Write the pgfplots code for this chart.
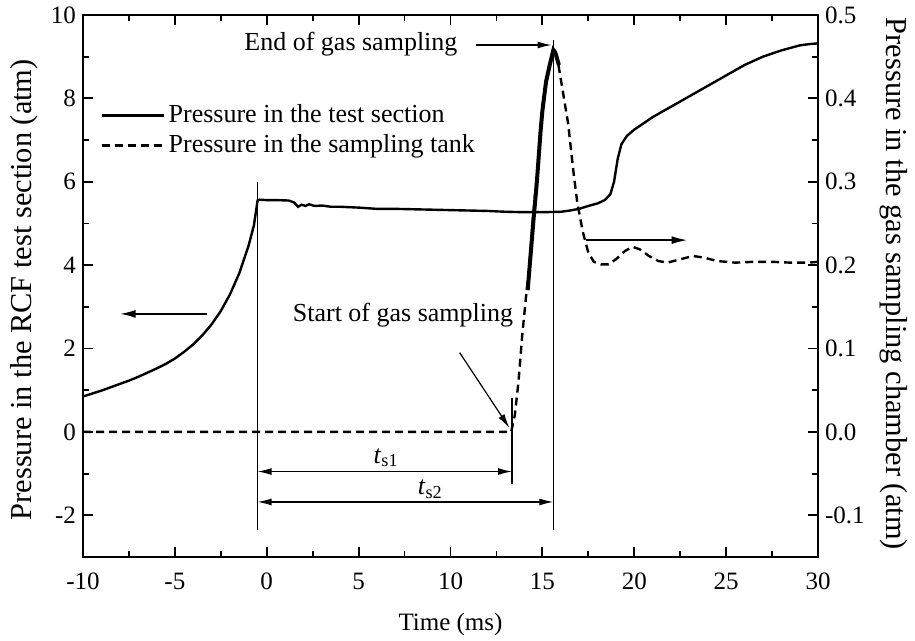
\documentclass[border=0pt]{standalone}
\usepackage{pgfplots}
\pgfplotsset{compat=1.18}
\usetikzlibrary{arrows.meta}
\usepackage{fontspec}
\setmainfont{Liberation Serif}

\pgfplotstableread{
x y
-10 0.85
-9.5 0.92
-9 0.99
-8.5 1.07
-8 1.15
-7.5 1.23
-7 1.32
-6.5 1.42
-6 1.52
-5.5 1.63
-5 1.76
-4.5 1.92
-4 2.10
-3.5 2.32
-3 2.58
-2.5 2.90
-2 3.30
-1.5 3.80
-1 4.45
-0.7 4.95
-0.5 5.55
-0.4 5.57
0 5.56
0.5 5.56
1.2 5.55
1.5 5.50
1.7 5.40
1.9 5.45
2.1 5.42
2.3 5.46
2.6 5.42
3 5.43
3.5 5.40
4 5.40
5 5.38
6 5.35
7 5.35
8 5.34
9 5.33
10 5.32
11 5.31
12 5.30
13 5.28
14 5.27
15 5.27
16 5.28
16.5 5.31
17 5.35
17.5 5.42
18 5.48
18.4 5.56
18.7 5.70
18.9 6.00
19.1 6.55
19.3 6.90
19.6 7.10
20 7.25
21 7.55
22 7.80
23 8.05
24 8.30
25 8.55
26 8.80
27 9.00
28 9.15
29 9.27
29.5 9.30
30 9.32
}\testsection

\pgfplotstableread{
x y
-10 0
13.3 0
13.5 0.02
13.7 0.06
13.9 0.115
14.1 0.16
14.3 0.20
14.5 0.26
14.8 0.33
15.0 0.39
15.3 0.43
15.6 0.46
15.8 0.45
16.1 0.41
16.4 0.37
16.7 0.31
16.9 0.275
17.2 0.24
17.5 0.215
17.8 0.204
18.2 0.201
18.6 0.201
19.0 0.207
19.5 0.217
19.9 0.222
20.3 0.219
20.8 0.211
21.3 0.205
21.8 0.203
22.5 0.207
23.2 0.211
23.8 0.209
24.5 0.205
25.5 0.203
26.5 0.204
27.5 0.204
28.5 0.203
29.5 0.203
30 0.204
}\tank

\pgfplotstableread{
x y
14.2 0.17
14.5 0.25
14.7 0.30
14.9 0.36
15.0 0.385
15.2 0.42
15.4 0.44
15.6 0.458
15.7 0.455
15.9 0.44
}\tankthick

\begin{document}
\begin{tikzpicture}[font=\fontsize{12.5}{15}\selectfont]
\path[use as bounding box] (-41.5pt,-42pt) rectangle (416pt,278.5pt);
\pgfplotsset{
  common/.style={
    scale only axis, width=367.5pt, height=271pt,
    at={(0pt,0pt)}, anchor=south west,
    xmin=-10, xmax=30,
    tick align=inside,
    major tick length=5pt, minor tick length=3pt,
    axis line style={line width=0.9pt},
    every tick/.style={line width=0.9pt, black},
    /pgf/number format/assume math mode=true,
  }
}
\begin{axis}[common,
  ymin=-3, ymax=10,
  xtick={-10,-5,...,30}, ytick={-2,0,...,10},
  minor x tick num=1, minor y tick num=1,
  ytick pos=left, xtick pos=both,
  xticklabel style={yshift=-4.5pt},
  xlabel={Time (ms)},
  ylabel={Pressure in the RCF test section (atm)},
  xlabel style={at={(axis description cs:0.5,-0.124)}, anchor=center},
  ylabel style={at={(axis description cs:-0.0803,0.493)}, anchor=center,
    font=\fontsize{15.2}{18}\selectfont},
]
\addplot[black, line width=1.2pt] table[x=x,y=y] {\testsection};

% annotation lines
\draw[line width=0.6pt] (axis cs:-0.5,6.0) -- (axis cs:-0.5,-2.35);
\draw[line width=0.6pt] (axis cs:15.6,9.4) -- (axis cs:15.6,-2.35);
\draw[line width=0.6pt] (axis cs:13.35,0.82) -- (axis cs:13.35,-1.25);
\draw[line width=0.6pt, {Latex[length=7pt,width=3.5pt]}-{Latex[length=7pt,width=3.5pt]}] (axis cs:-0.5,-0.95) -- (axis cs:13.35,-0.95);
\draw[line width=0.6pt, {Latex[length=7pt,width=3.5pt]}-{Latex[length=7pt,width=3.5pt]}] (axis cs:-0.5,-1.68) -- (axis cs:15.6,-1.68);
\node[font=\fontsize{13}{15}\selectfont] at (axis cs:6.5,-0.62) {\textit{t}\textsubscript{s1}};
\node[font=\fontsize{13}{15}\selectfont] at (axis cs:8.9,-1.38) {\textit{t}\textsubscript{s2}};
\draw[line width=0.9pt, -{Latex[length=8pt,width=4pt]}] (axis cs:-3.25,2.83) -- (axis cs:-8,2.83);
\draw[line width=0.9pt, -{Latex[length=8pt,width=4pt]}] (axis cs:17.4,4.6) -- (axis cs:22.9,4.6);
\node[anchor=east, inner sep=0pt, font=\fontsize{13}{15}\selectfont] at (axis cs:10.4,9.3) {End of gas sampling};
\draw[line width=0.6pt, -{Latex[length=7pt,width=3.5pt]}] (axis cs:11.4,9.28) -- (axis cs:15.5,9.28);
\node[anchor=west, inner sep=0pt, font=\fontsize{13}{15}\selectfont] at (axis cs:1.4,2.8) {Start of gas sampling};
\draw[line width=0.6pt, -{Latex[length=7pt,width=3.5pt]}] (axis cs:10.5,1.9) -- (axis cs:13.2,0.1);
\end{axis}

\begin{axis}[common,
  ymin=-0.15, ymax=0.5,
  axis x line=none, axis y line*=right,
  tick align=inside,
  ytick={-0.1,0,0.1,0.2,0.3,0.4,0.5},
  minor y tick num=1,
  yticklabel style={/pgf/number format/.cd, fixed, fixed zerofill, precision=1},
  ylabel={Pressure in the gas sampling chamber (atm)},
  ylabel style={at={(axis description cs:1.1034,0.504)}, anchor=center, rotate=180,
    font=\fontsize{15.2}{18}\selectfont},
  legend style={draw=none, fill=none, inner sep=0pt,
    at={(axis description cs:0.023,0.787)}, anchor=west,
    row sep=0.5pt, font=\fontsize{13}{15}\selectfont},
  legend cell align=left,
  legend image code/.code={\draw[#1] (0pt,0pt) -- (31pt,0pt);},
]
\addlegendimage{black, line width=1.2pt}
\addlegendentry{Pressure in the test section}
\addplot[black, line width=1.2pt, dash pattern=on 4pt off 2.5pt] table[x=x,y=y] {\tank};
\addlegendentry{Pressure in the sampling tank}
\addplot[black, line width=2pt, forget plot] table[x=x,y=y] {\tankthick};
\end{axis}
\end{tikzpicture}
\end{document}
